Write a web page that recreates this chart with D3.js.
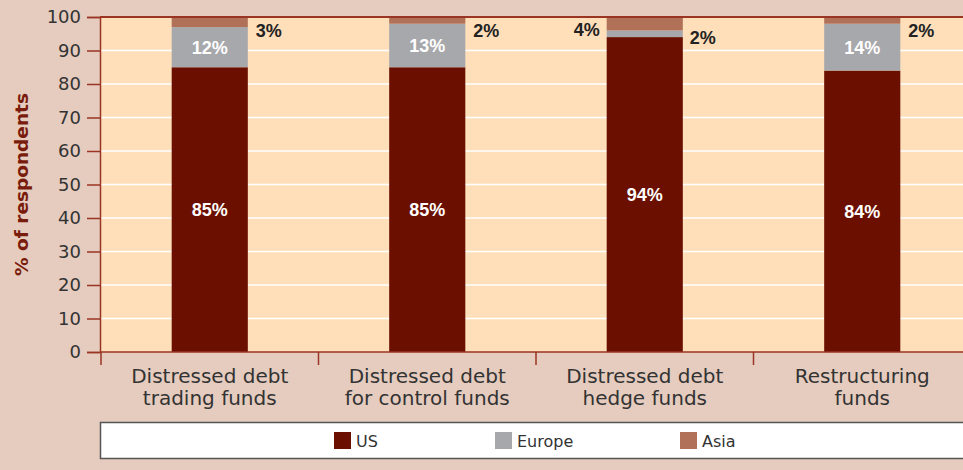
<!DOCTYPE html>
<html>
<head>
<meta charset="utf-8">
<script src="https://cdn.jsdelivr.net/npm/d3@7"></script>
<style>
  body { margin: 0; background: #e5ccbf; }
  svg { display: block; font-family: "DejaVu Sans", sans-serif; }
</style>
</head>
<body>
<svg id="chart" width="963" height="470"></svg>
<script>
const categories = [
  ["Distressed debt", "trading funds"],
  ["Distressed debt", "for control funds"],
  ["Distressed debt", "hedge funds"],
  ["Restructuring", "funds"]
];
const seriesNames = ["US", "Europe", "Asia"];
const us = [85, 85, 94, 84];
const europe = [12, 13, 2, 14];
const asia = [3, 2, 4, 2];
const yTicks = [0, 10, 20, 30, 40, 50, 60, 70, 80, 90, 100];

const colors = { US: "#6b0f00", Europe: "#a7a8ab", Asia: "#b07158" };
const axisColor = "#9a3524";

const svg = d3.select("#chart");
const plotL = 100, plotR = 970, plotT = 17, plotB = 352;

const x = d3.scaleBand().domain(d3.range(categories.length)).range([plotL + 1, plotR + 1]);
const y = d3.scaleLinear().domain([0, 100]).range([plotB, plotT]);
const barW = x.bandwidth() * 0.35;

// plot background
svg.append("rect")
  .attr("x", plotL).attr("y", plotT)
  .attr("width", 963 - plotL).attr("height", plotB - plotT)
  .attr("fill", "#fedfba");

// gridlines
svg.append("g").selectAll("line")
  .data(yTicks.filter(d => d > 0 && d < 100))
  .join("line")
  .attr("x1", plotL).attr("x2", 963)
  .attr("y1", d => y(d)).attr("y2", d => y(d))
  .attr("stroke", "#fff").attr("stroke-width", 1.5);

// stacked bars
const rows = categories.map((c, i) => ({ i, US: us[i], Europe: europe[i], Asia: asia[i] }));
const stack = d3.stack().keys(seriesNames)(rows);

svg.append("g").selectAll("g")
  .data(stack)
  .join("g")
  .attr("fill", s => colors[s.key])
  .selectAll("rect")
  .data(s => s)
  .join("rect")
  .attr("x", d => x(d.data.i) + x.bandwidth() / 2 - barW / 2)
  .attr("y", d => y(d[1]))
  .attr("width", barW)
  .attr("height", d => y(d[0]) - y(d[1]));

// value labels
const lab = svg.append("g")
  .attr("font-family", "Liberation Sans, Arial, sans-serif")
  .attr("font-weight", "bold").attr("font-size", 18);
rows.forEach(r => {
  const cx = x(r.i) + x.bandwidth() / 2;
  lab.append("text")
    .attr("x", cx).attr("y", y(r.US / 2) + 6.5)
    .attr("text-anchor", "middle").attr("fill", "#fff")
    .text(r.US + "%");
  if (r.Europe >= 5) {
    lab.append("text")
      .attr("x", cx).attr("y", y(r.US + r.Europe / 2) + 6.5)
      .attr("text-anchor", "middle").attr("fill", "#fff")
      .text(r.Europe + "%");
    lab.append("text")
      .attr("x", cx + barW / 2 + 8).attr("y", y(96) + 6.5)
      .attr("fill", "#222")
      .text(r.Asia + "%");
  } else {
    lab.append("text")
      .attr("x", cx + barW / 2 + 7).attr("y", y(94) + 6.5)
      .attr("fill", "#222")
      .text(r.Europe + "%");
    lab.append("text")
      .attr("x", cx - barW / 2 - 7).attr("y", y(96.3) + 6.5)
      .attr("text-anchor", "end").attr("fill", "#222")
      .text(r.Asia + "%");
  }
});

// top border
svg.append("line")
  .attr("x1", plotL).attr("x2", 963).attr("y1", plotT).attr("y2", plotT)
  .attr("stroke", axisColor).attr("stroke-width", 2);

// y axis
const yAxis = svg.append("g")
  .attr("transform", `translate(${plotL},0)`)
  .call(d3.axisLeft(y).tickValues(yTicks).tickSize(13).tickPadding(6));
yAxis.select(".domain").attr("stroke", axisColor).attr("stroke-width", 1.5);
yAxis.selectAll(".tick line").attr("stroke", axisColor).attr("stroke-width", 1.5);
yAxis.selectAll(".tick text")
  .attr("font-size", 18).attr("fill", "#333").attr("font-family", "DejaVu Sans, sans-serif");

// x axis
svg.append("line")
  .attr("x1", plotL).attr("x2", 963).attr("y1", plotB).attr("y2", plotB)
  .attr("stroke", axisColor).attr("stroke-width", 1.5);
svg.append("g").selectAll("line")
  .data(d3.range(categories.length))
  .join("line")
  .attr("x1", d => x(d)).attr("x2", d => x(d))
  .attr("y1", plotB).attr("y2", plotB + 13)
  .attr("stroke", axisColor).attr("stroke-width", 1.5);

const xl = svg.append("g").attr("font-size", 20).attr("fill", "#333").attr("text-anchor", "middle");
categories.forEach((c, i) => {
  const t = xl.append("text").attr("x", x(i) + x.bandwidth() / 2).attr("y", 383);
  c.forEach((line, j) => t.append("tspan").attr("x", x(i) + x.bandwidth() / 2).attr("dy", j ? 22 : 0).text(line));
});

// y title
svg.append("text")
  .attr("transform", `translate(28,${(plotT + plotB) / 2}) rotate(-90)`)
  .attr("text-anchor", "middle")
  .attr("font-size", 18.5).attr("font-weight", "bold").attr("fill", "#7a1c0c")
  .text("% of respondents");

// legend
svg.append("rect")
  .attr("x", 100.5).attr("y", 422.5).attr("width", 880).attr("height", 36)
  .attr("fill", "#fff").attr("stroke", "#555").attr("stroke-width", 1.5);
const legX = [334, 495, 680];
const leg = svg.append("g").selectAll("g")
  .data(seriesNames)
  .join("g")
  .attr("transform", (d, i) => `translate(${legX[i]},432)`);
leg.append("rect").attr("width", 17).attr("height", 17).attr("fill", d => colors[d]);
leg.append("text").attr("x", 22).attr("y", 15).attr("font-size", 16).attr("fill", "#333").text(d => d);
</script>
</body>
</html>
